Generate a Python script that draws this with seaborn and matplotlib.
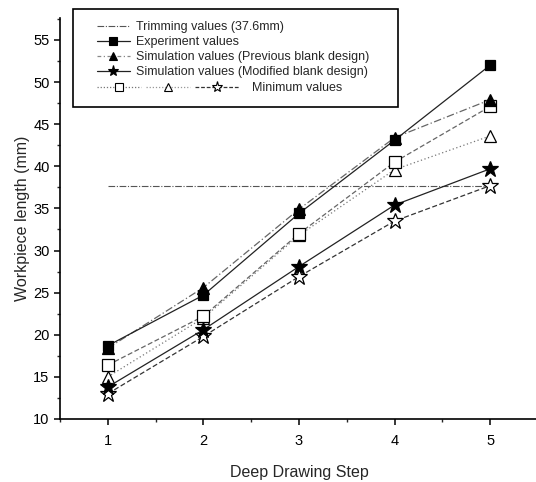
import matplotlib
matplotlib.use("Agg")
import matplotlib.pyplot as plt
import seaborn as sns
from matplotlib.lines import Line2D
from matplotlib.patches import Rectangle
from matplotlib.legend_handler import HandlerTuple
from matplotlib.ticker import MultipleLocator

# data
steps = [1, 2, 3, 4, 5]
trim_value = 37.6
experiment = [18.7, 24.7, 34.4, 43.1, 52.0]
sim_previous = [18.4, 25.6, 34.9, 43.4, 47.9]
sim_modified = [13.8, 20.6, 28.1, 35.4, 39.7]
min_square = [16.4, 22.2, 32.0, 40.5, 47.1]
min_triangle = [15.0, 22.0, 31.8, 39.6, 43.6]
min_star = [13.0, 19.8, 26.9, 33.5, 37.7]


def main():
    sns.set_style("ticks")
    plt.rcParams['font.family'] = ['Liberation Sans', 'DejaVu Sans']

    fig = plt.figure(figsize=(5.36, 4.82), dpi=100)
    ax = fig.add_axes([60 / 536, 1 - 419 / 482, 478 / 536, 401 / 482])

    # trimming line
    ax.plot([steps[0], steps[-1]], [trim_value, trim_value], color='#555555',
            lw=0.8, ls=(0, (6, 1.5, 1, 1.5)))

    series = [
        (min_triangle, '^', 'white', (0, (1, 2)), '#777777', 9),
        (min_square, 's', 'white', (0, (4, 2)), '#666666', 8.5),
        (min_star, '*', 'white', (0, (4, 2)), '#333333', 12),
        (sim_previous, '^', 'black', (0, (6, 2, 1, 2)), '#666666', 9),
        (experiment, 's', 'black', '-', '#222222', 7.5),
        (sim_modified, '*', 'black', '-', '#222222', 12),
    ]
    for vals, mk, fc, ls, lc, ms in series:
        sns.lineplot(x=steps, y=vals, ax=ax, color=lc, lw=0.9, linestyle=ls,
                     marker=mk, markersize=ms, markerfacecolor=fc,
                     markeredgecolor='black', markeredgewidth=0.9)

    ax.set_xlim(0.5, 5.5)
    ax.set_ylim(10, 57.6)
    ax.xaxis.set_major_locator(MultipleLocator(1))
    ax.xaxis.set_minor_locator(MultipleLocator(0.5))
    ax.yaxis.set_major_locator(MultipleLocator(5))
    ax.yaxis.set_minor_locator(MultipleLocator(2.5))
    ax.tick_params(which='major', direction='out', length=4, width=1.1,
                   labelsize=10.5, colors='black')
    ax.tick_params(axis='x', which='major', pad=7)
    ax.tick_params(which='minor', direction='out', length=2.5, width=1.0)
    sns.despine(ax=ax)
    for s in ['left', 'bottom']:
        ax.spines[s].set_linewidth(1.2)
        ax.spines[s].set_color('black')
    ax.set_xlabel('Deep Drawing Step', fontsize=11.5, labelpad=12)
    ax.set_ylabel('Workpiece length (mm)', fontsize=11.5, labelpad=2)

    # legend frame
    fig.patches.append(Rectangle((73 / 536, 1 - 107 / 482), 325 / 536, 98 / 482,
                                 transform=fig.transFigure, fill=False,
                                 lw=1.2, ec='black'))

    def h(mk, fc, ls, lc, ms):
        return Line2D([], [], color=lc, lw=0.9, ls=ls, marker=mk, markersize=ms,
                      markerfacecolor=fc, markeredgecolor='black', markeredgewidth=0.8)

    handles = [
        Line2D([], [], color='#555555', lw=0.8, ls=(0, (6, 1.5, 1, 1.5))),
        h('s', 'black', '-', '#222222', 5.5),
        h('^', 'black', (0, (3, 2, 1, 2)), '#888888', 6),
        h('*', 'black', '-', '#222222', 8),
    ]
    labels = ['Trimming values (37.6mm)', 'Experiment values',
              'Simulation values (Previous blank design)',
              'Simulation values (Modified blank design)']
    leg1 = ax.legend(handles, labels, loc='upper left',
                     bbox_to_anchor=(97 / 536, 1 - 21 / 482),
                     bbox_transform=fig.transFigure, frameon=False,
                     fontsize=9, handlelength=2.6, handletextpad=0.5,
                     labelspacing=0.25, borderpad=0, borderaxespad=0)
    ax.add_artist(leg1)

    tup = (h('s', 'white', (0, (1, 1.5)), '#777777', 6),
           h('^', 'white', (0, (1, 1.5)), '#999999', 6),
           h('*', 'white', (0, (3, 1.5)), '#333333', 8))
    ax.legend([tup], ['Minimum values'], loc='upper left',
              bbox_to_anchor=(97 / 536, 1 - 82 / 482),
              bbox_transform=fig.transFigure, frameon=False,
              fontsize=9, handlelength=11.4, handletextpad=1.0,
              borderpad=0, borderaxespad=0,
              handler_map={tuple: HandlerTuple(ndivide=None, pad=0.4)})

    fig.savefig('out.png', dpi=100)


if __name__ == "__main__":
    main()
